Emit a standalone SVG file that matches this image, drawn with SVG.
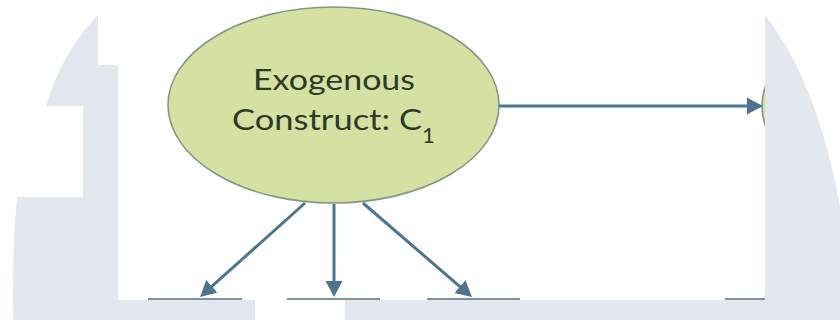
<svg xmlns="http://www.w3.org/2000/svg" width="840" height="320" viewBox="0 0 840 320">
  <style>
    .construct { fill: #d4e1a2; stroke: #7f9a80; stroke-width: 1.6; }
    .label { font-family: Lato, "Open Sans", "Liberation Sans", sans-serif; font-size: 28px; fill: #2e3a26; }
    .edge { stroke: #4e7590; stroke-width: 3; fill: none; marker-end: url(#arrow); }
    .boxtop { stroke: #7f9494; stroke-width: 2; }
    .overlay { fill: #e3e7f0; }
  </style>
  <defs>
    <marker id="arrow" markerUnits="userSpaceOnUse" viewBox="0 -9 16 18" refX="2" refY="0" markerWidth="16" markerHeight="18" orient="auto">
      <path d="M0,-8.5 L16,0 L0,8.5 z" fill="#4e7590"/>
    </marker>
  </defs>
  <rect width="840" height="320" fill="#ffffff"/>

  <g id="node-c1">
    <ellipse class="construct" cx="333.5" cy="105" rx="165.5" ry="98"/>
    <text class="label" y="90"><tspan x="253" textLength="162" lengthAdjust="spacingAndGlyphs">Exogenous</tspan></text>
    <text class="label" y="130"><tspan x="232" textLength="190" lengthAdjust="spacingAndGlyphs">Construct: C</tspan><tspan x="422" y="143" font-size="22px">1</tspan></text>
  </g>

  <g id="node-c2">
    <ellipse class="construct" cx="930" cy="106" rx="168" ry="98"/>
  </g>

  <g id="node-indicators">
    <line class="boxtop" x1="148" y1="299" x2="242" y2="299"/>
    <line class="boxtop" x1="287" y1="299" x2="380" y2="299"/>
    <line class="boxtop" x1="427" y1="299" x2="520" y2="299"/>
    <line class="boxtop" x1="725" y1="299" x2="765" y2="299"/>
  </g>

  <g id="connectors">
    <line class="edge" x1="499" y1="106" x2="749" y2="106"/>
    <line class="edge" x1="305" y1="203" x2="210.4" y2="287.7"/>
    <line class="edge" x1="334" y1="204" x2="334" y2="283"/>
    <line class="edge" x1="363" y1="203" x2="461.4" y2="287.9"/>
  </g>

  <g id="overlay">
    <rect x="765" y="0" width="75" height="300" fill="#ffffff"/>
    <path class="overlay" d="M98,15 L98,65 L118,65 L118,300 L255,300 L255,320 L0,320 L13,320 Q12,250 17,197 L83,197 L83,106 L46,106 Q62,52 98,15 Z"/>
    <rect class="overlay" x="345" y="300" width="495" height="20"/>
    <path class="overlay" d="M765,15 C800,60 830,130 845,240 L845,320 L765,320 Z"/>
  </g>
</svg>
